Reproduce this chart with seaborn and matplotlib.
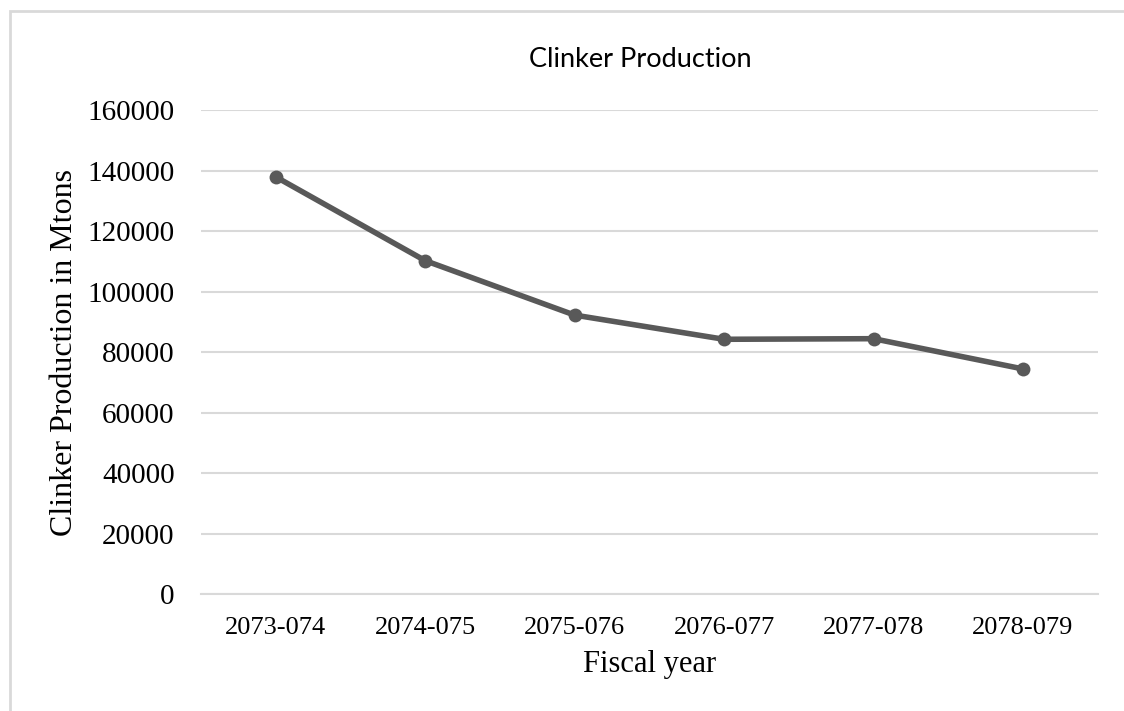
import pandas as pd
import matplotlib.pyplot as plt
import seaborn as sns
from matplotlib.patches import Rectangle

# Data
fiscal_years = ['2073-074', '2074-075', '2075-076', '2076-077', '2077-078', '2078-079']
clinker_mtons = [138000, 110300, 92300, 84300, 84500, 74500]

df = pd.DataFrame({'Fiscal year': fiscal_years, 'Clinker': clinker_mtons})

sns.set_style('white')
plt.rcParams['font.family'] = ['Liberation Serif', 'DejaVu Serif']
plt.rcParams['text.color'] = 'black'
plt.rcParams['axes.labelcolor'] = 'black'
plt.rcParams['xtick.color'] = 'black'
plt.rcParams['ytick.color'] = 'black'

fig = plt.figure(figsize=(11.24, 7.11), dpi=100)
ax = fig.add_axes([0.1788, 0.1641, 0.7978, 0.6808])

sns.lineplot(data=df, x='Fiscal year', y='Clinker', ax=ax, color='#595959',
             linewidth=4, marker='o', markersize=10, markeredgewidth=0,
             sort=False)

ax.set_xlim(-0.5, len(fiscal_years) - 0.5)
ax.set_ylim(0, 160000)
ax.set_yticks(range(0, 160001, 20000))
ax.yaxis.grid(True, color='#d9d9d9', linewidth=1.5)
ax.set_axisbelow(True)
for side in ['top', 'right', 'left']:
    ax.spines[side].set_visible(False)
ax.spines['bottom'].set_color('#d9d9d9')
ax.spines['bottom'].set_linewidth(1.5)
ax.tick_params(axis='both', length=0)
ax.tick_params(axis='y', labelsize=21, pad=19)
ax.tick_params(axis='x', labelsize=19, pad=16)

ax.set_xlabel('Fiscal year', fontsize=22, labelpad=8)
ax.set_ylabel('Clinker Production in Mtons', fontsize=23, labelpad=6)
ax.set_title('Clinker Production', fontsize=19.5, family=['Lato', 'DejaVu Sans'],
             x=0.49, pad=31)

# light outer frame, cropped at right and bottom like the reference
fig.patches.append(Rectangle((10 / 1124, -0.1), 1.2, 1.1 - 12 / 711 + 0.001,
                             transform=fig.transFigure, fill=False,
                             edgecolor='#d9d9d9', linewidth=2))

fig.savefig('out.png', dpi=100)
